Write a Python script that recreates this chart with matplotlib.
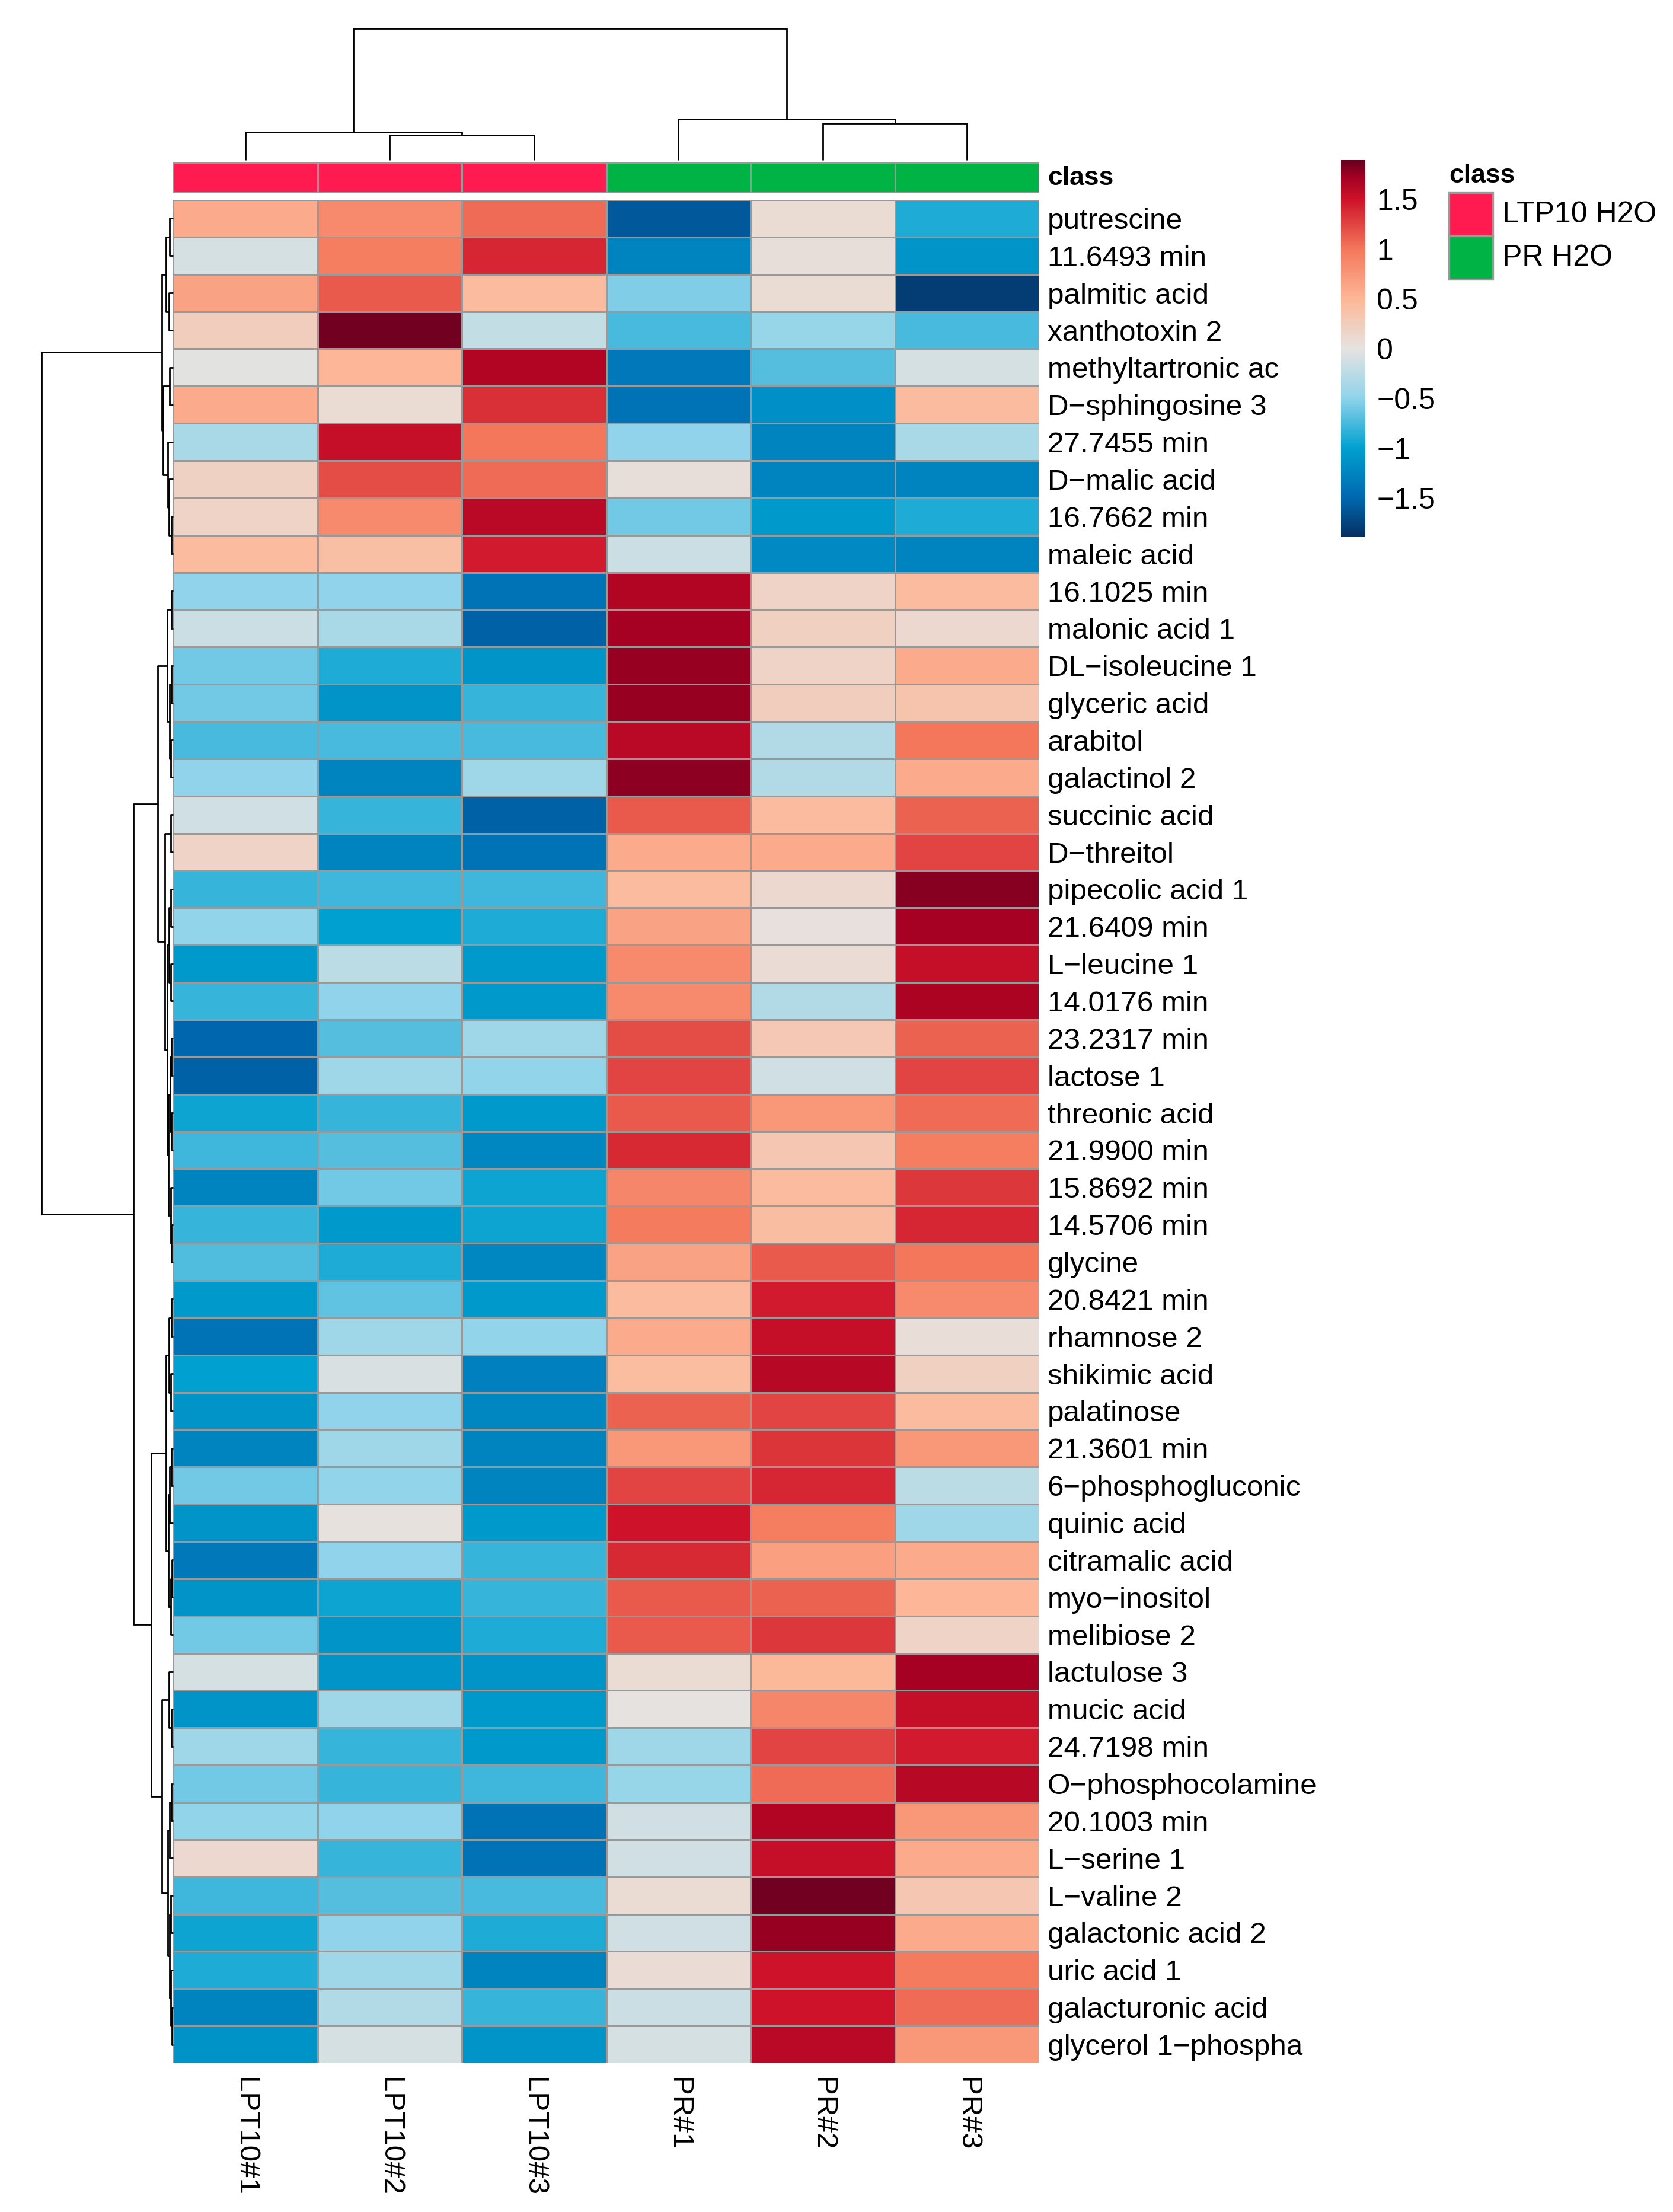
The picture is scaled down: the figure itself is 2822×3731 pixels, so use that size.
import numpy as np
import matplotlib
matplotlib.use('Agg')
import matplotlib.pyplot as plt
from matplotlib.colors import LinearSegmentedColormap, ListedColormap, Normalize
from matplotlib.patches import Rectangle

plt.rcParams['font.family'] = ['Liberation Sans', 'DejaVu Sans']

# ---- data ----
samples = ['LPT10#1', 'LPT10#2', 'LPT10#3', 'PR#1', 'PR#2', 'PR#3']
sample_class = [0, 0, 0, 1, 1, 1]
class_names = ['LTP10 H2O', 'PR H2O']
class_colors = ['#FF1A4F', '#00B345']

metabolites = ['putrescine', '11.6493 min', 'palmitic acid', 'xanthotoxin 2',
               'methyltartronic ac', 'D\u2212sphingosine 3', '27.7455 min',
               'D\u2212malic acid', '16.7662 min', 'maleic acid', '16.1025 min',
               'malonic acid 1', 'DL\u2212isoleucine 1', 'glyceric acid', 'arabitol',
               'galactinol 2', 'succinic acid', 'D\u2212threitol', 'pipecolic acid 1',
               '21.6409 min', 'L\u2212leucine 1', '14.0176 min', '23.2317 min',
               'lactose 1', 'threonic acid', '21.9900 min', '15.8692 min',
               '14.5706 min', 'glycine', '20.8421 min', 'rhamnose 2',
               'shikimic acid', 'palatinose', '21.3601 min', '6\u2212phosphogluconic',
               'quinic acid', 'citramalic acid', 'myo\u2212inositol', 'melibiose 2',
               'lactulose 3', 'mucic acid', '24.7198 min', 'O\u2212phosphocolamine',
               '20.1003 min', 'L\u2212serine 1', 'L\u2212valine 2', 'galactonic acid 2',
               'uric acid 1', 'galacturonic acid', 'glycerol 1\u2212phospha']

lpt1 = [0.6, -0.1, 0.65, 0.25, -0.02, 0.6, -0.35, 0.2, 0.18, 0.45,
        -0.5, -0.15, -0.6, -0.6, -0.75, -0.5, -0.12, 0.18, -0.8, -0.48,
        -1.05, -0.8, -1.5, -1.55, -0.95, -0.78, -1.25, -0.8, -0.72, -1.05,
        -1.4, -1.0, -1.1, -1.25, -0.6, -1.1, -1.35, -1.1, -0.6, -0.1,
        -1.1, -0.4, -0.6, -0.48, 0.12, -0.78, -0.95, -0.9, -1.25, -1.12]
lpt2 = [0.85, 0.95, 1.15, 1.85, 0.5, 0.1, 1.55, 1.2, 0.85, 0.4,
        -0.5, -0.35, -0.9, -1.1, -0.75, -1.25, -0.8, -1.25, -0.78, -1.0,
        -0.25, -0.5, -0.7, -0.4, -0.8, -0.7, -0.6, -1.05, -0.9, -0.65,
        -0.4, -0.08, -0.5, -0.4, -0.48, 0.02, -0.5, -0.95, -1.1, -1.1,
        -0.4, -0.8, -0.8, -0.5, -0.8, -0.7, -0.5, -0.4, -0.3, -0.1]
lpt3 = [1.05, 1.4, 0.45, -0.2, 1.65, 1.35, 1.0, 1.05, 1.6, 1.45,
        -1.4, -1.55, -1.1, -0.8, -0.75, -0.4, -1.55, -1.4, -0.78, -0.9,
        -1.05, -1.05, -0.4, -0.48, -1.05, -1.22, -0.95, -0.95, -1.22, -1.05,
        -0.48, -1.28, -1.22, -1.25, -1.25, -1.05, -0.8, -0.8, -0.9, -1.1,
        -1.05, -1.05, -0.78, -1.4, -1.4, -0.75, -0.9, -1.25, -0.8, -1.1]
pr1 = [-1.6, -1.25, -0.55, -0.75, -1.35, -1.4, -0.5, 0.05, -0.6, -0.15,
       1.65, 1.7, 1.75, 1.75, 1.6, 1.78, 1.15, 0.6, 0.45, 0.65,
       0.85, 0.85, 1.2, 1.25, 1.15, 1.38, 0.88, 0.97, 0.65, 0.45,
       0.6, 0.43, 1.1, 0.75, 1.25, 1.5, 1.38, 1.15, 1.15, 0.1,
       0.0, -0.4, -0.45, -0.12, -0.12, 0.1, -0.12, 0.08, -0.15, -0.1]
pr2 = [0.1, 0.05, 0.1, -0.45, -0.7, -1.15, -1.25, -1.25, -1.05, -1.2,
       0.18, 0.22, 0.18, 0.25, -0.3, -0.3, 0.45, 0.6, 0.12, 0.03,
       0.08, -0.3, 0.3, -0.12, 0.75, 0.32, 0.45, 0.42, 1.15, 1.45,
       1.55, 1.62, 1.25, 1.32, 1.4, 0.95, 0.68, 1.1, 1.3, 0.48,
       0.88, 1.25, 1.05, 1.65, 1.55, 1.85, 1.75, 1.5, 1.5, 1.6]
pr3 = [-0.9, -1.1, -1.8, -0.75, -0.1, 0.45, -0.35, -1.25, -0.9, -1.25,
       0.45, 0.12, 0.6, 0.35, 1.0, 0.6, 1.1, 1.25, 1.8, 1.7,
       1.55, 1.68, 1.1, 1.25, 1.05, 0.95, 1.3, 1.4, 1.0, 0.85,
       0.07, 0.22, 0.45, 0.75, -0.25, -0.4, 0.6, 0.5, 0.18, 1.7,
       1.55, 1.45, 1.62, 0.75, 0.6, 0.32, 0.6, 0.97, 1.05, 0.75]

# dendrograms: (height, left, right), leaves are row / column indices
col_tree = (1.0, (0.212, 0, (0.19, 1, 2)), (0.31, 3, (0.28, 4, 5)))
row_tree = (1.0,
            (0.087,
             (0.053, (0.026, 0, 1), (0.03, 2, 3)),
             (0.075, (0.027, 4, 5), (0.04, 6, (0.03, 7, (0.015, 8, 9))))),
            (0.30,
             (0.117,
              (0.045, (0.015, 10, 11), (0.026, (0.012, 12, 13), (0.018, 14, 15))),
              (0.063, (0.02, 16, 17),
               (0.045, (0.03, (0.02, 18, 19), (0.018, 20, 21)),
                (0.035, (0.022, (0.012, 22, 23), (0.015, 24, 25)),
                 (0.02, 26, (0.012, 27, 28)))))),
             (0.165,
              (0.053, (0.033, (0.015, 29, 30), (0.02, 31, 32)),
               (0.038, (0.025, (0.012, 33, 34), 35), (0.02, (0.01, 36, 37), 38))),
              (0.087, (0.03, 39, (0.015, 40, 41)),
               (0.042, (0.025, (0.015, 42, 43), 44),
                (0.028, (0.018, 45, 46), (0.016, 47, (0.01, 48, 49))))))))

vlim = 1.89
cmap_nodes = [(-1.89, '#053061'), (-1.5, '#0068B0'), (-1.0, '#00A0D0'),
              (-0.5, '#8FD3EA'), (0.0, '#E6E3E1'), (0.5, '#FDB797'),
              (1.0, '#F4775B'), (1.5, '#CE1229'), (1.72, '#A50022'),
              (1.89, '#67001F')]

# ---- figure ----
W, H = 2822, 3731
fig = plt.figure(figsize=(W / 200, H / 200), dpi=200)


def axes_px(x0, y0, x1, y1):
    return fig.add_axes([x0 / W, 1 - y1 / H, (x1 - x0) / W, (y1 - y0) / H])


cmap = LinearSegmentedColormap.from_list(
    'hm', [((v + vlim) / (2 * vlim), c) for v, c in cmap_nodes])
norm = Normalize(-vlim, vlim)
grid = '#999999'
fs = 17.8

data = np.column_stack([lpt1, lpt2, lpt3, pr1, pr2, pr3])
nrow, ncol = data.shape

hm_top, hm_bot = 337, 3480

# heatmap
ax = axes_px(292, hm_top, 1753, hm_bot)
mesh = ax.pcolormesh(data, cmap=cmap, norm=norm, edgecolors=grid, linewidth=1.0)
ax.set_xlim(0, ncol)
ax.set_ylim(nrow, 0)
ax.yaxis.tick_right()
ax.set_yticks(np.arange(nrow) + 0.5)
ax.set_yticklabels(metabolites, fontsize=fs)
ax.set_xticks(np.arange(ncol) + 0.5)
ax.set_xticklabels(samples, fontsize=fs, rotation=270)
ax.tick_params(length=0)
ax.tick_params(axis='y', pad=5)
ax.tick_params(axis='x', pad=8.5)
for s in ax.spines.values():
    s.set_visible(False)

# class annotation bar
axa = axes_px(292, 274, 1753, 325)
axa.pcolormesh(np.array([sample_class]), cmap=ListedColormap(class_colors),
               vmin=-0.5, vmax=1.5, edgecolors=grid, linewidth=1.0)
axa.set_xlim(0, ncol)
axa.set_ylim(1, 0)
axa.axis('off')


def dendro(a, node, horizontal):
    if isinstance(node, int):
        return node + 0.5, 0.0
    h, left, right = node
    p1, h1 = dendro(a, left, horizontal)
    p2, h2 = dendro(a, right, horizontal)
    pos = [p1, p1, p2, p2]
    hts = [h1, h, h, h2]
    if horizontal:
        a.plot(hts, pos, color='black', lw=1.0, clip_on=False, solid_capstyle='butt')
    else:
        a.plot(pos, hts, color='black', lw=1.0, clip_on=False, solid_capstyle='butt')
    return (p1 + p2) / 2, h


# column dendrogram
axc = axes_px(292, 48, 1753, 270)
dendro(axc, col_tree, False)
axc.set_xlim(0, ncol)
axc.set_ylim(0, 1)
axc.axis('off')

# row dendrogram
axr = axes_px(70, hm_top, 292, hm_bot)
dendro(axr, row_tree, True)
axr.set_xlim(1, 0)
axr.set_ylim(nrow, 0)
axr.axis('off')

# colour bar
cax = axes_px(2262, 270, 2303, 906)
cb = fig.colorbar(mesh, cax=cax)
cb.set_ticks([-1.5, -1, -0.5, 0, 0.5, 1, 1.5])
cb.set_ticklabels(['\u22121.5', '\u22121', '\u22120.5', '0', '0.5', '1', '1.5'])
cb.ax.tick_params(length=0, labelsize=18, pad=7)
cb.outline.set_visible(False)

# legend and annotation title, drawn in pixel space
ov = fig.add_axes([0, 0, 1, 1])
ov.set_xlim(0, W)
ov.set_ylim(H, 0)
ov.axis('off')
ov.text(1767, 300, 'class', fontsize=16, fontweight='bold', va='center', ha='left')
ov.text(2444, 308, 'class', fontsize=16, fontweight='bold', va='baseline', ha='left')
box_top = 325
for name, col in zip(class_names, class_colors):
    ov.add_patch(Rectangle((2444, box_top), 74, 73, facecolor=col,
                           edgecolor=grid, lw=1.2))
    ov.text(2534, box_top + 37, name, fontsize=18, va='center', ha='left')
    box_top += 73

fig.savefig('out.png', dpi=200)
